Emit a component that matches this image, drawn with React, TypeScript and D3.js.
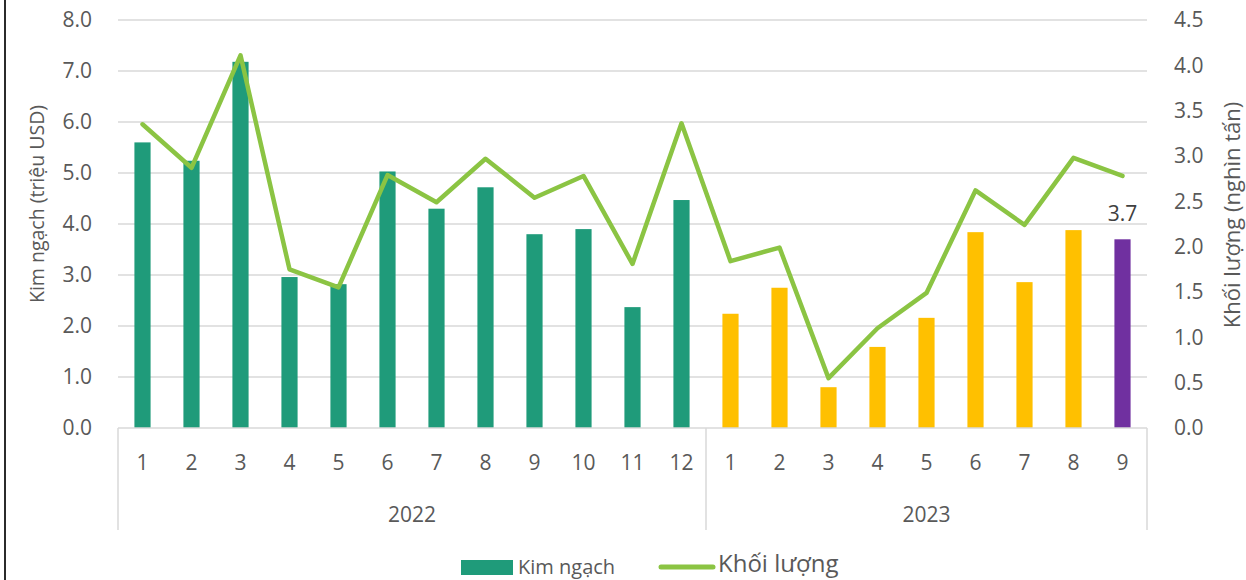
import React from 'react'
import * as d3 from 'd3'

// dữ liệu
const years = ['2022', '2023']
const months2022 = ['1', '2', '3', '4', '5', '6', '7', '8', '9', '10', '11', '12']
const months2023 = ['1', '2', '3', '4', '5', '6', '7', '8', '9']
const value2022 = [5.6, 5.24, 7.18, 2.96, 2.82, 5.03, 4.3, 4.72, 3.8, 3.9, 2.37, 4.47]
const value2023 = [2.24, 2.75, 0.8, 1.59, 2.16, 3.84, 2.86, 3.88, 3.7]
const volume2022 = [3.35, 2.87, 4.11, 1.75, 1.55, 2.79, 2.49, 2.97, 2.54, 2.78, 1.81, 3.36]
const volume2023 = [1.84, 1.99, 0.55, 1.1, 1.49, 2.62, 2.24, 2.98, 2.78]
const leftTicks = [0, 1, 2, 3, 4, 5, 6, 7, 8]
const rightTicks = [0, 0.5, 1, 1.5, 2, 2.5, 3, 3.5, 4, 4.5]

const W = 1246
const H = 580
const FONT = '"Open Sans", "DejaVu Sans", sans-serif'
const TEXT = '#595959'
const GRID = '#D9D9D9'

interface Row {
  key: string
  month: string
  year: string
  value: number
  volume: number
  color: string
}

const rows: Row[] = [
  ...months2022.map((m, i) => ({
    key: `2022-${m}`, month: m, year: years[0],
    value: value2022[i], volume: volume2022[i], color: '#1F9B7A'
  })),
  ...months2023.map((m, i) => ({
    key: `2023-${m}`, month: m, year: years[1],
    value: value2023[i], volume: volume2023[i],
    color: i === months2023.length - 1 ? '#7030A0' : '#FFC000'
  }))
]

export default function App() {
  const left = 118
  const right = 1147
  const top = 20
  const bottom = 428

  const x = d3.scaleBand<string>().domain(rows.map(r => r.key)).range([left, right]).padding(0)
  const yL = d3.scaleLinear().domain([0, 8]).range([bottom, top])
  const yR = d3.scaleLinear().domain([0, 4.5]).range([bottom, top])
  const bw = x.bandwidth() * 0.33
  const cx = (k: string) => (x(k) ?? 0) + x.bandwidth() / 2

  const line = d3.line<Row>()
    .x(d => cx(d.key))
    .y(d => yR(d.volume))

  // ranh giới năm trên trục danh mục
  const sep = [left, x(rows[months2022.length].key) ?? 0, right]
  const yearCenters = years.map(yr => {
    const r = rows.filter(d => d.year === yr)
    return ((x(r[0].key) ?? 0) + (x(r[r.length - 1].key) ?? 0) + x.bandwidth()) / 2
  })
  const last = rows[rows.length - 1]

  return (
    <div style={{ position: 'fixed', left: 0, top: 0, background: '#fff' }}>
      <svg width={W} height={H} style={{ display: 'block', fontFamily: FONT }}>
        <rect width={W} height={H} fill="#fff" />
        <line x1={5} x2={5} y1={0} y2={H} stroke="#2b2b2b" strokeWidth={2} />

        {/* lưới ngang */}
        {leftTicks.filter(t => t > 0).map(t => (
          <line key={t} x1={left} x2={right} y1={yL(t)} y2={yL(t)} stroke={GRID} strokeWidth={1.5} />
        ))}

        {/* trục trái */}
        {leftTicks.map(t => (
          <text key={t} x={92} y={yL(t)} dy="0.35em" textAnchor="end" fontSize={21} fill={TEXT}>
            {t.toFixed(1)}
          </text>
        ))}
        <text transform="translate(37,204) rotate(-90)" textAnchor="middle" dy="0.35em" fontSize={19.5} fill={TEXT}>
          Kim ngạch (triệu USD)
        </text>

        {/* trục phải */}
        {rightTicks.map(t => (
          <text key={t} x={1174} y={yR(t)} dy="0.35em" textAnchor="start" fontSize={21} fill={TEXT}>
            {t.toFixed(1)}
          </text>
        ))}
        <text transform="translate(1232,215) rotate(-90)" textAnchor="middle" dy="0.35em" fontSize={22} fill={TEXT}>
          Khối lượng (nghìn tấn)
        </text>

        {/* cột */}
        {rows.map(d => (
          <rect key={d.key} x={cx(d.key) - bw / 2} y={yL(d.value)} width={bw}
            height={bottom - yL(d.value)} fill={d.color} />
        ))}

        {/* trục danh mục */}
        <line x1={left} x2={right} y1={bottom} y2={bottom} stroke={GRID} strokeWidth={1.5} />
        {sep.map((s, i) => (
          <line key={i} x1={s} x2={s} y1={bottom} y2={530} stroke={GRID} strokeWidth={1.5} />
        ))}
        {rows.map(d => (
          <text key={d.key} x={cx(d.key)} y={463} dy="0.35em" textAnchor="middle" fontSize={21} fill={TEXT}>
            {d.month}
          </text>
        ))}
        {years.map((yr, i) => (
          <text key={yr} x={yearCenters[i]} y={515} dy="0.35em" textAnchor="middle" fontSize={21} fill={TEXT}>
            {yr}
          </text>
        ))}

        {/* đường khối lượng */}
        <path d={line(rows) ?? ''} fill="none" stroke="#8BC443" strokeWidth={4.5}
          strokeLinejoin="round" strokeLinecap="round" />

        {/* nhãn dữ liệu */}
        <text x={cx(last.key)} y={yL(last.value) - 16} dy="-0.1em" textAnchor="middle" fontSize={21} fill="#404040">
          {last.value.toFixed(1)}
        </text>

        {/* chú giải */}
        <rect x={461} y={560} width={52} height={15} fill="#1F9B7A" />
        <text x={518} y={567} dy="0.35em" fontSize={20} fill={TEXT}>Kim ngạch</text>
        <line x1={661} x2={713} y1={567} y2={567} stroke="#8BC443" strokeWidth={5} strokeLinecap="round" />
        <text x={718} y={564} dy="0.35em" fontSize={24} fill={TEXT}>Khối lượng</text>
      </svg>
    </div>
  )
}
